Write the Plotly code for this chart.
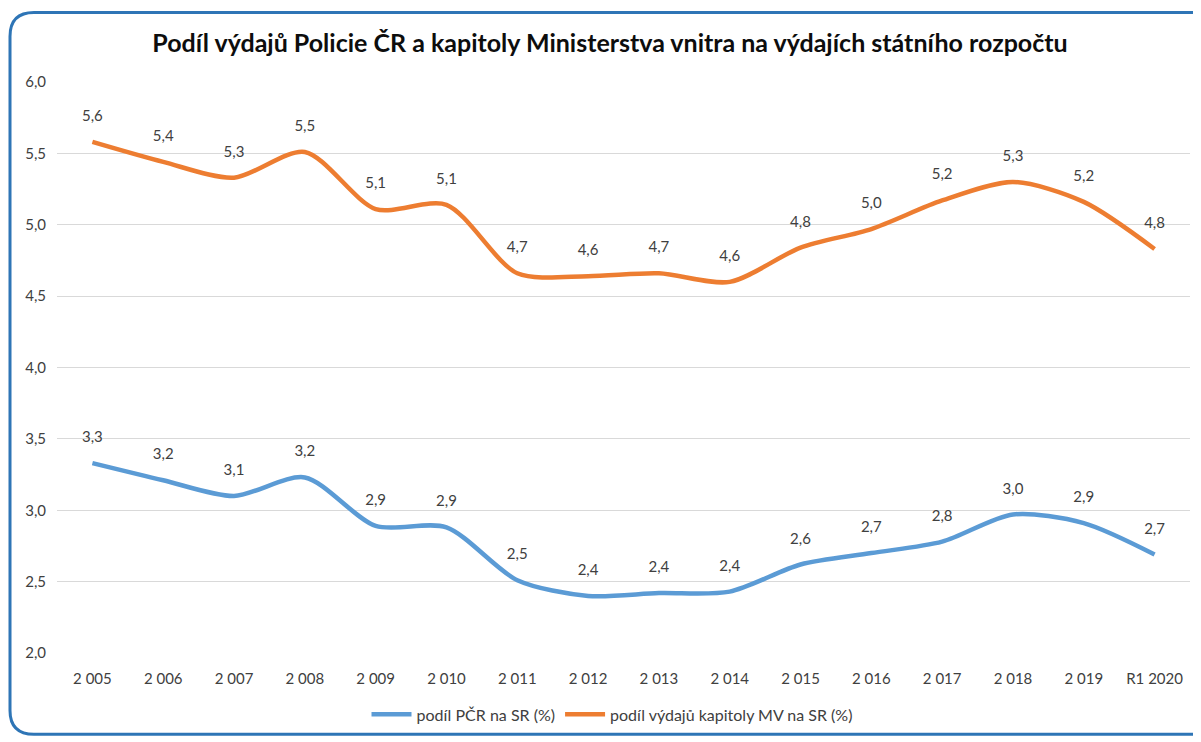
import plotly.graph_objects as go

roky = ["2 005", "2 006", "2 007", "2 008", "2 009", "2 010", "2 011", "2 012",
        "2 013", "2 014", "2 015", "2 016", "2 017", "2 018", "2 019", "R1 2020"]
podil_pcr = [3.33, 3.21, 3.10, 3.23, 2.89, 2.88, 2.51, 2.40,
             2.42, 2.43, 2.62, 2.70, 2.78, 2.97, 2.91, 2.69]
podil_mv = [5.58, 5.44, 5.33, 5.51, 5.11, 5.14, 4.66, 4.64,
            4.66, 4.60, 4.84, 4.97, 5.17, 5.30, 5.16, 4.83]

# stránka má okraj 8 px, proto je graf o 8 px menší
W, H = 1193, 734
ml, mr, mt, mb = 49, 11, 74, 84
pw, ph = W - ml - mr, H - mt - mb


def fmt(v):
    return f"{v:.1f}".replace(".", ",")


def px(x):
    return (x - ml) / pw


def py(y):
    return (mt + ph - y) / ph


fig = go.Figure()
for nazev, hodnoty, barva in [("podíl PČR na SR (%)", podil_pcr, "#5B9BD5"),
                              ("podíl výdajů kapitoly MV na SR (%)", podil_mv, "#ED7D31")]:
    fig.add_trace(go.Scatter(x=roky, y=hodnoty, name=nazev, mode="lines",
                             line=dict(color=barva, width=4.5, shape="spline", smoothing=0.8)))
    # popisky dat nad křivkou (neviditelné značky je odsunou nahoru)
    fig.add_trace(go.Scatter(x=roky, y=hodnoty, mode="markers+text", showlegend=False,
                             text=[fmt(v) for v in hodnoty], textposition="top center",
                             textfont=dict(size=15, color="#404040"),
                             marker=dict(size=26, color="rgba(0,0,0,0)"),
                             hoverinfo="skip"))

# zaoblený rámeček grafu
x0, x1, y0, y1, r = 2, 1210, 4, 732, 24
path = (f"M {px(x0)},{py(y0 + r)} Q {px(x0)},{py(y0)} {px(x0 + r)},{py(y0)} "
        f"L {px(x1)},{py(y0)} L {px(x1)},{py(y1)} L {px(x0 + r)},{py(y1)} "
        f"Q {px(x0)},{py(y1)} {px(x0)},{py(y1 - r)} Z")
fig.add_shape(type="path", path=path, xref="paper", yref="paper",
              line=dict(color="#2E75B6", width=3))

fig.update_layout(
    width=W, height=H,
    margin=dict(l=ml, r=mr, t=mt, b=mb),
    paper_bgcolor="white", plot_bgcolor="white",
    separators=", ",
    font=dict(family="Lato", size=15, color="#404040"),
    title=dict(text="<b>Podíl výdajů Policie ČR a kapitoly Ministerstva vnitra na výdajích státního rozpočtu</b>",
               x=602 / W, xref="container", xanchor="center", y=(H - 35) / H, yanchor="middle",
               font=dict(family="Lato", size=25, color="#0D0D0D")),
    legend=dict(orientation="h", x=px(604), xanchor="center", y=py(712), yanchor="middle",
                font=dict(size=16, color="#404040"), itemwidth=40),
    showlegend=True,
)
fig.update_xaxes(type="category", range=[-0.5, 15.5], showgrid=False, showline=False,
                 ticks="", ticklabelstandoff=15, tickfont=dict(size=15, color="#404040"))
fig.update_yaxes(range=[2, 6], dtick=0.5, tickformat=".1f", showgrid=True,
                 gridcolor="#D9D9D9", gridwidth=1, zeroline=False, showline=False,
                 ticklabelstandoff=10, tickfont=dict(size=15, color="#404040"))

fig.write_html("out.html")
